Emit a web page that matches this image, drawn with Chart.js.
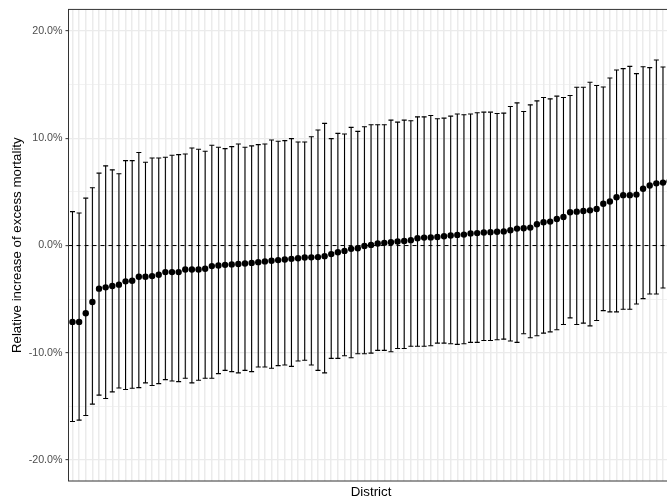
<!DOCTYPE html>
<html>
<head>
<meta charset="utf-8">
<script src="https://cdn.jsdelivr.net/npm/chart.js@4.4.1/dist/chart.umd.min.js"></script>
<style>
  html, body { margin: 0; padding: 0; background: #fff; overflow: hidden; }
  #grafico { display: block; }
</style>
</head>
<body>
<canvas id="grafico" width="680" height="500"></canvas>
<script>
// estimativa pontual por distrito (%), ordenada
var pointEst = [-7.12,-7.12,-6.31,-5.26,-4.02,-3.90,-3.78,-3.65,-3.34,-3.28,
  -2.91,-2.91,-2.85,-2.72,-2.48,-2.48,-2.48,-2.23,-2.23,-2.23,
  -2.17,-1.92,-1.86,-1.80,-1.76,-1.72,-1.68,-1.62,-1.55,-1.48,
  -1.42,-1.36,-1.30,-1.24,-1.18,-1.12,-1.10,-1.08,-0.99,-0.80,
  -0.62,-0.50,-0.31,-0.25,-0.05,0.06,0.19,0.25,0.31,0.37,
  0.43,0.50,0.68,0.74,0.76,0.80,0.87,0.93,0.99,1.02,
  1.13,1.16,1.22,1.25,1.28,1.32,1.42,1.58,1.61,1.67,
  1.98,2.17,2.23,2.48,2.66,3.10,3.16,3.22,3.28,3.40,
  3.90,4.10,4.50,4.70,4.70,4.75,5.30,5.60,5.80,5.87,6.00];

// limite superior do intervalo
var upper = [3.16,3.04,4.42,5.39,6.75,7.43,7.06,6.69,7.92,7.92,
  8.67,7.77,8.17,8.17,8.23,8.42,8.48,8.54,9.10,8.98,
  8.79,9.35,9.16,9.04,9.22,9.47,9.16,9.29,9.41,9.47,
  9.84,9.72,9.78,9.97,9.66,9.66,10.15,10.77,11.39,9.97,
  10.46,10.40,11.02,10.65,11.08,11.27,11.27,11.27,11.70,11.51,
  11.70,11.64,12.00,12.00,12.13,11.82,11.88,12.07,12.26,12.20,
  12.26,12.38,12.44,12.44,12.32,12.35,12.97,13.30,12.50,13.12,
  13.49,13.80,13.68,13.93,13.80,13.99,14.76,14.76,15.23,14.92,
  14.79,15.63,16.37,16.50,16.71,16.03,16.68,16.59,17.30,16.65,17.50];

// limite inferior do intervalo
var lower = [-16.41,-16.28,-15.85,-14.79,-13.95,-14.26,-13.65,-13.28,-13.43,-13.31,
  -13.25,-12.81,-13.06,-12.88,-12.51,-12.63,-12.69,-12.38,-12.81,-12.56,
  -12.38,-12.38,-11.95,-11.64,-11.76,-11.88,-11.64,-11.76,-11.33,-11.33,
  -11.45,-11.20,-11.14,-11.27,-10.77,-10.70,-11.14,-11.64,-11.88,-10.52,
  -10.52,-10.28,-10.46,-10.09,-10.09,-10.03,-9.78,-9.78,-9.90,-9.60,
  -9.60,-9.40,-9.40,-9.40,-9.35,-9.10,-9.10,-9.16,-9.22,-9.16,
  -9.03,-9.03,-8.85,-8.85,-8.79,-8.73,-8.91,-9.03,-8.23,-8.60,
  -8.42,-8.17,-8.05,-7.86,-7.37,-6.75,-7.37,-7.24,-7.49,-6.99,
  -6.07,-6.19,-6.19,-5.94,-5.94,-5.45,-4.95,-4.52,-4.52,-3.96,-4.27];

var yTicks = [-20, -15, -10, -5, 0, 5, 10, 15, 20];
var refLine = 0;

var n = pointEst.length;

// segmentos verticais: lo -> hi, depois null pra quebrar a linha
var whiskers = [];
for (var i = 0; i < n; i++) {
  whiskers.push({x: i + 1, y: lower[i]});
  whiskers.push({x: i + 1, y: upper[i]});
  whiskers.push({x: i + 1, y: null});
}
var caps = [];
for (var i = 0; i < n; i++) {
  caps.push({x: i + 1, y: upper[i]});
  caps.push({x: i + 1, y: lower[i]});
}

// moldura do painel (theme_bw)
const moldura = {
  id: 'moldura',
  afterDraw(chart) {
    const a = chart.chartArea, c = chart.ctx;
    c.save();
    c.strokeStyle = '#333333';
    c.lineWidth = 1;
    c.strokeRect(a.left, a.top, a.right - a.left, a.bottom - a.top);
    c.restore();
  }
};

Chart.defaults.font.family = "'Liberation Sans', Arial, sans-serif";

new Chart(document.getElementById('grafico'), {
  type: 'scatter',
  data: {
    datasets: [
      {
        data: pointEst.map((v, i) => ({x: i + 1, y: v})),
        pointRadius: 3.2,
        pointBackgroundColor: '#000',
        pointBorderWidth: 0,
        order: 0
      },
      {
        data: caps,
        pointStyle: 'line',
        pointRadius: 2.5,
        pointBorderWidth: 1.1,
        pointBorderColor: '#000',
        order: 1
      },
      {
        data: whiskers,
        showLine: true,
        spanGaps: false,
        borderColor: '#000',
        borderWidth: 1.1,
        pointRadius: 0,
        order: 2
      },
      {
        data: [{x: 0.4, y: refLine}, {x: n + 0.6, y: refLine}],
        showLine: true,
        borderColor: '#000',
        borderWidth: 1,
        borderDash: [4, 4],
        pointRadius: 0,
        order: 3
      }
    ]
  },
  options: {
    responsive: false,
    animation: false,
    events: [],
    layout: { padding: { left: 9, top: 7, right: 6.4, bottom: 0 } },
    plugins: { legend: { display: false }, tooltip: { enabled: false } },
    scales: {
      x: {
        type: 'linear',
        min: 0.4,
        max: n + 0.6,
        afterBuildTicks: s => { s.ticks = pointEst.map((_, i) => ({value: i + 1})); },
        afterFit: s => { s.height = 19; },
        ticks: { display: false },
        grid: { color: '#ebebeb', lineWidth: 1.5, drawTicks: false },
        border: { display: false },
        title: {
          display: true,
          text: 'District',
          color: '#000',
          font: { size: 13.3 },
          padding: { top: 3, bottom: 0 }
        }
      },
      y: {
        min: -21.96,
        max: 22.02,
        afterBuildTicks: s => { s.ticks = yTicks.map(v => ({value: v})); },
        afterFit: s => { s.width = 59.5; },
        ticks: {
          color: '#4d4d4d',
          font: { size: 10.7 },
          padding: 3,
          callback: v => (v % 10 === 0 ? v.toFixed(1) + '%' : '')
        },
        grid: {
          color: '#ebebeb',
          lineWidth: ctx => (ctx.tick && ctx.tick.value % 10 === 0 ? 1.3 : 0.65),
          tickColor: ctx => (ctx.tick && ctx.tick.value % 10 === 0 ? '#333333' : 'rgba(0,0,0,0)'),
          tickLength: 3,
          tickWidth: 1
        },
        border: { display: false },
        title: {
          display: true,
          text: 'Relative increase of excess mortality',
          color: '#000',
          font: { size: 13.3 },
          padding: 0
        }
      }
    }
  },
  plugins: [moldura]
});
</script>
</body>
</html>
